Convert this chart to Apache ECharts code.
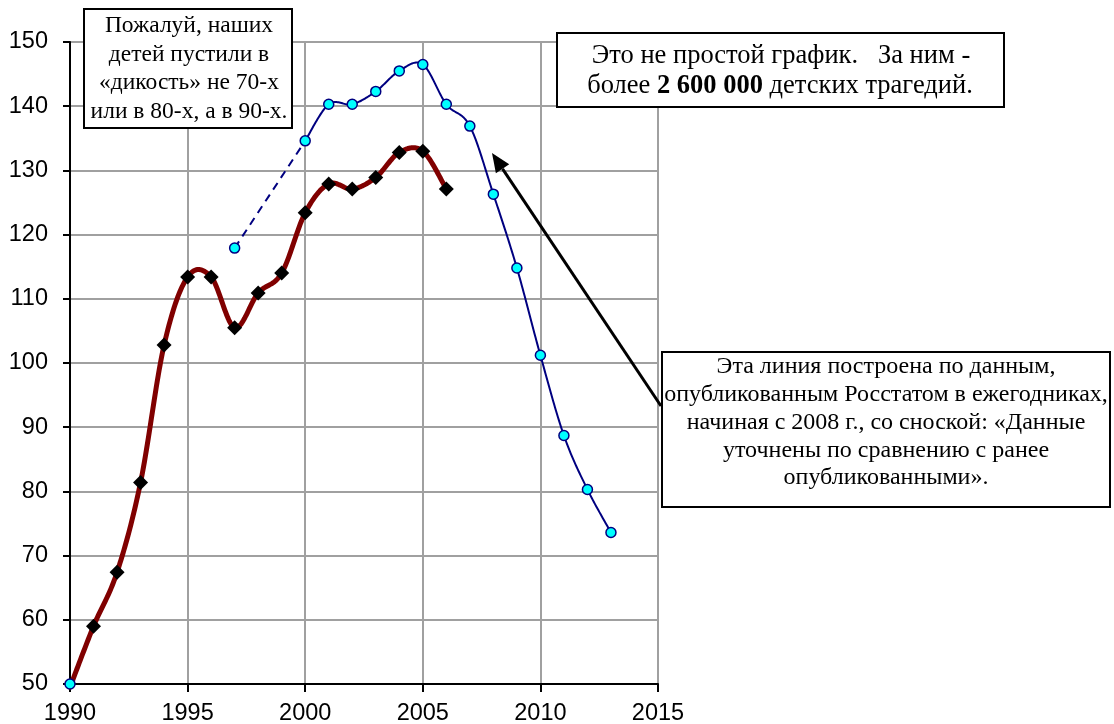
<!DOCTYPE html>
<html><head><meta charset="utf-8">
<script src="https://cdn.jsdelivr.net/npm/echarts@6/dist/echarts.min.js"></script>
<style>html,body{margin:0;padding:0;background:#fff}#c{width:1114px;height:724px}</style>
</head><body><div id="c"></div>
<script>
// ---- data ----
const xTicks = [1990, 1995, 2000, 2005, 2010, 2015];
const yTicks = [50, 60, 70, 80, 90, 100, 110, 120, 130, 140, 150];

const redYears  = [1990, 1991, 1992, 1993, 1994, 1995, 1996, 1997, 1998, 1999, 2000, 2001, 2002, 2003, 2004, 2005, 2006];
const redValues = [49.5, 59.0, 67.4, 81.4, 102.8, 113.4, 113.4, 105.5, 110.9, 114.0, 123.4, 127.9, 127.1, 128.9, 132.8, 133.0, 127.1];

const blueYears  = [2000, 2001, 2002, 2003, 2004, 2005, 2006, 2007, 2008, 2009, 2010, 2011, 2012, 2013];
const blueValues = [134.6, 140.3, 140.3, 142.3, 145.5, 146.5, 140.3, 136.9, 126.3, 114.8, 101.2, 88.7, 80.3, 73.6];

const earlyYears  = [1990, 1997];
const earlyValues = [50.0, 117.9];

const dashYears  = [1997, 2000];
const dashValues = [117.9, 134.6];

const noteLeft  = ['Пожалуй, наших', 'детей пустили в', '«дикость» не 70-х', 'или в 80-х, а в 90-х.'];
const noteTop1  = 'Это не простой график.   За ним -';
const noteTop2a = 'более ';
const noteTop2b = '2 600 000';
const noteTop2c = ' детских трагедий.';
const noteRight = ['Эта линия построена по данным,', 'опубликованным Росстатом в ежегодниках,', 'начиная с 2008 г., со сноской: «Данные', 'уточнены по сравнению с ранее', 'опубликованными».'];

// ---- chart ----
const zip = (xs, ys) => xs.map((x, i) => [x, ys[i]]);
const serif = '"Liberation Serif", "Times New Roman", serif';
const sans = '"Liberation Sans", Arial, sans-serif';

const chart = echarts.init(document.getElementById('c'), null, {renderer: 'canvas'});

// Excel-like smoothing (cubic Bezier through points, Catmull-Rom tangents)
function smoothPts(p) {
  const out = [];
  const n = p.length;
  const t = 1 / 6;
  for (let i = 0; i < n - 1; i++) {
    const p0 = p[Math.max(i - 1, 0)], p1 = p[i], p2 = p[i + 1], p3 = p[Math.min(i + 2, n - 1)];
    const c1 = [p1[0] + (p2[0] - p0[0]) * t, p1[1] + (p2[1] - p0[1]) * t];
    const c2 = [p2[0] - (p3[0] - p1[0]) * t, p2[1] - (p3[1] - p1[1]) * t];
    const steps = 24;
    for (let s = (i === 0 ? 0 : 1); s <= steps; s++) {
      const u = s / steps, v = 1 - u;
      out.push([
        v*v*v*p1[0] + 3*v*v*u*c1[0] + 3*v*u*u*c2[0] + u*u*u*p2[0],
        v*v*v*p1[1] + 3*v*v*u*c1[1] + 3*v*u*u*c2[1] + u*u*u*p2[1]
      ]);
    }
  }
  return out;
}
function smoothSeries(xs, ys, color, width, z) {
  return {
    type: 'custom', data: zip(xs, ys), clip: false, z: z, silent: true,
    renderItem: (params, api) => {
      if (params.dataIndex !== 0) return null;
      const pts = xs.map((x, i) => api.coord([x, ys[i]]));
      return {type: 'polyline', shape: {points: smoothPts(pts)},
        style: {stroke: color, lineWidth: width, fill: 'none', lineJoin: 'round', lineCap: 'round'}};
    }
  };
}

function box(x, y, w, h) {
  return {type: 'rect', shape: {x: x, y: y, width: w, height: h},
    style: {fill: '#fff', stroke: '#000', lineWidth: 2}, z: 100};
}
function lines(arr, cx, top, lh, fs) {
  return arr.map((t, i) => ({type: 'text', x: cx, y: top + i * lh, z: 101,
    style: {text: t, font: fs + 'px ' + serif, fill: '#000', align: 'center', verticalAlign: 'middle'}}));
}

// arrow geometry (pixels)
const tail = [661, 406], tip = [492, 153];
const ang = Math.atan2(tip[1] - tail[1], tip[0] - tail[0]);
const aL = 19, aW = 8;
const base = [tip[0] - aL * Math.cos(ang), tip[1] - aL * Math.sin(ang)];
const head = [tip,
  [base[0] + aW * Math.sin(ang), base[1] - aW * Math.cos(ang)],
  [base[0] - aW * Math.sin(ang), base[1] + aW * Math.cos(ang)]];

const FT = 26.5;
const graphics = [
  box(84, 9, 208, 119),
  ...lines(noteLeft, 189, 26, 28.5, 23.5),
  box(557, 33, 447, 74),
  {type: 'text', x: 781, y: 56, z: 101, style: {text: noteTop1, font: FT + 'px ' + serif, fill: '#000', align: 'center', verticalAlign: 'middle'}},
  {type: 'text', x: 780, y: 86, z: 101, style: {
    text: '{n|' + noteTop2a + '}{b|' + noteTop2b + '}{n|' + noteTop2c + '}',
    align: 'center', verticalAlign: 'middle',
    rich: {n: {fontFamily: serif, fontSize: FT, fill: '#000'}, b: {fontFamily: serif, fontSize: FT, fontWeight: 'bold', fill: '#000'}}}},
  box(662, 352, 448, 155),
  ...lines(noteRight, 886, 367, 27.8, 24),
  {type: 'line', shape: {x1: tail[0], y1: tail[1], x2: base[0], y2: base[1]}, style: {stroke: '#000', lineWidth: 3}, z: 99},
  {type: 'polygon', shape: {points: head}, style: {fill: '#000'}, z: 99}
];

chart.setOption({
  animation: false,
  backgroundColor: '#fff',
  grid: {left: 70, right: 456, top: 42, bottom: 40, containLabel: false, outerBoundsMode: 'none'},
  xAxis: {
    type: 'value', min: xTicks[0], max: xTicks[xTicks.length - 1], interval: xTicks[1] - xTicks[0],
    axisLine: {show: true, onZero: false, lineStyle: {color: '#000', width: 2}},
    axisTick: {show: true, length: 8, lineStyle: {color: '#000', width: 2}},
    axisLabel: {fontFamily: sans, fontSize: 23.5, color: '#000', margin: 18, formatter: v => String(v)},
    splitLine: {show: true, lineStyle: {color: '#a0a0a0', width: 2}}
  },
  yAxis: {
    type: 'value', min: yTicks[0], max: yTicks[yTicks.length - 1], interval: yTicks[1] - yTicks[0],
    axisLine: {show: true, onZero: false, lineStyle: {color: '#000', width: 2}},
    axisTick: {show: true, length: 7, lineStyle: {color: '#000', width: 2}},
    axisLabel: {fontFamily: sans, fontSize: 23.5, color: '#000', margin: 22, formatter: v => String(v)},
    splitLine: {show: true, lineStyle: {color: '#a0a0a0', width: 2}}
  },
  series: [
    smoothSeries(redYears, redValues, '#800000', 5, 3),
    {type: 'scatter', data: zip(redYears, redValues).slice(1), symbol: 'diamond', symbolSize: 15,
      itemStyle: {color: '#000', borderWidth: 0, opacity: 1}, z: 4},
    {type: 'line', data: zip(dashYears, dashValues), symbol: 'none',
      lineStyle: {color: '#000080', width: 2, type: [8, 6]}, z: 4},
    smoothSeries(blueYears, blueValues, '#000080', 2, 5),
    {type: 'scatter', data: zip(blueYears, blueValues), symbol: 'circle', symbolSize: 10,
      itemStyle: {color: '#00ffff', borderColor: '#000080', borderWidth: 1.5, opacity: 1}, z: 6},
    {type: 'scatter', data: zip(earlyYears, earlyValues), symbol: 'circle', symbolSize: 10, clip: false,
      itemStyle: {color: '#00ffff', borderColor: '#000080', borderWidth: 1.5, opacity: 1}, z: 6}
  ],
  graphic: graphics
});
</script></body></html>
